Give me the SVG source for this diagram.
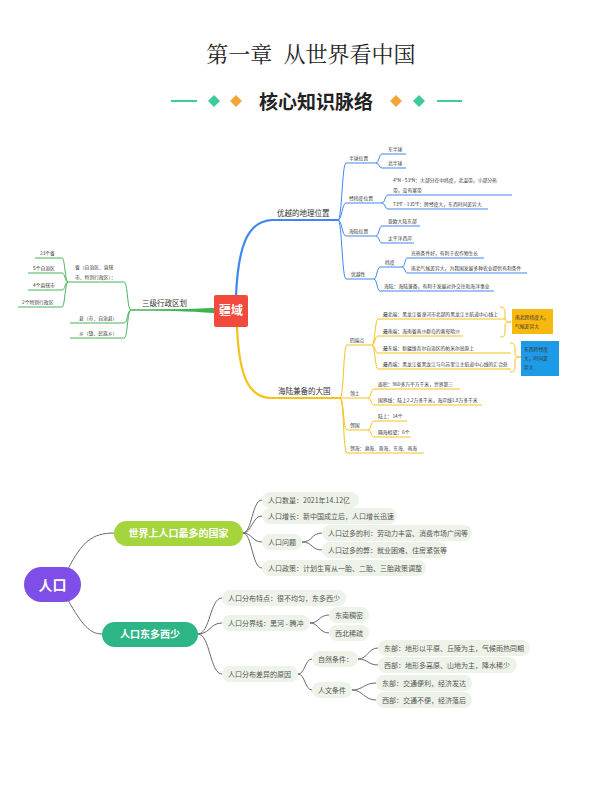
<svg xmlns="http://www.w3.org/2000/svg" width="592" height="798" viewBox="0 0 592 798">
<defs>
<style>
text{font-family:"Noto Sans CJK SC","Liberation Sans",sans-serif;}
.t{font-size:4.8px;fill:#333;}
.m{font-size:7.5px;fill:#333;}
.lf{font-size:7px;fill:#555;}
.bl{fill:none;stroke:#3f87ef;stroke-width:1;}
.yl{fill:none;stroke:#f4c21c;stroke-width:1;}
.gl{fill:none;stroke:#45b556;stroke-width:1;}
.gc{fill:none;stroke:#6a6a6a;stroke-width:1;}
.pill{fill:#edf3e9;}
</style>
</defs>
<rect width="592" height="798" fill="#ffffff"/>

<g id="title">
<text x="311" y="62" text-anchor="middle" xml:space="preserve" style="font-family:'Noto Serif CJK SC','Noto Sans CJK SC',serif;font-size:22px;fill:#222;">第一章  从世界看中国</text>
</g>
<g id="header">
<line x1="171" y1="101" x2="197" y2="101" stroke="#3ecb9c" stroke-width="2"/>
<polygon points="214,95 220,101 214,107 208,101" fill="#3ecb9c"/>
<polygon points="236,95 242,101 236,107 230,101" fill="#f5a43a"/>
<text x="316" y="109" text-anchor="middle" style="font-size:19px;font-weight:bold;fill:#222;">核心知识脉络</text>
<polygon points="396,95 402,101 396,107 390,101" fill="#f5a43a"/>
<polygon points="419,95 425,101 419,107 413,101" fill="#3ecb9c"/>
<line x1="437" y1="101" x2="462" y2="101" stroke="#3ecb9c" stroke-width="2"/>
</g>

<g id="connectors-top">
<!-- blue -->
<path d="M236,296 C238,250 246,221 272,220 L338,220" fill="none" stroke="#3f87ef" stroke-width="2.2"/>
<path class="bl" d="M338,220 C342,220 342,163 346,163 L376,163"/>
<path class="bl" d="M338,220 C342,220 342,203 346,203 L382,203"/>
<path class="bl" d="M338,220 C342,220 342,236 346,236 L376,236"/>
<path class="bl" d="M338,220 C342,220 342,279 346,279 L374,279"/>
<path class="bl" d="M376,163 C379,163 379,154 382,154 L406,154"/>
<path class="bl" d="M376,163 C379,163 379,168 382,168 L406,168"/>
<path class="bl" d="M382,203 C385,203 385,195 388,195 L512,195"/>
<path class="bl" d="M382,203 C385,203 385,209 388,209 L488,209"/>
<path class="bl" d="M376,236 C379,236 379,226 382,226 L420,226"/>
<path class="bl" d="M376,236 C379,236 379,243 382,243 L414,243"/>
<path class="bl" d="M374,279 C377,279 377,267 380,267 L402,267"/>
<path class="bl" d="M374,279 C377,279 377,291 380,291 L494,291"/>
<path class="bl" d="M402,267 C405,267 405,258 407,258 L484,258"/>
<path class="bl" d="M402,267 C405,267 405,273 407,273 L527,273"/>
<!-- yellow -->
<path d="M237,327 C239,375 248,398 272,398 L340,398" fill="none" stroke="#f4c21c" stroke-width="2.2"/>
<path class="yl" d="M340,398 C344,398 343,345 347,345 L372,345"/>
<path class="yl" d="M340,398 L368,398"/>
<path class="yl" d="M340,398 C344,398 343,430 347,430 L368,430"/>
<path class="yl" d="M340,398 C344,398 343,453 347,453 L424,453"/>
<path class="yl" d="M372,345 C375,345 375,319 378,319 L505,319"/>
<path class="yl" d="M372,345 C375,345 375,336 378,336 L463,336"/>
<path class="yl" d="M372,345 C375,345 375,353 378,353 L511,353"/>
<path class="yl" d="M372,345 C375,345 375,369 378,369 L511,369"/>
<path class="yl" d="M368,398 C371,398 371,389 374,389 L460,389"/>
<path class="yl" d="M368,398 C371,398 371,405 374,405 L482,405"/>
<path class="yl" d="M368,430 C371,430 371,421 374,421 L407,421"/>
<path class="yl" d="M368,430 C371,430 371,437 374,437 L411,437"/>
<path class="yl" d="M500,307 C504,307 505,309 505,313 L505,318 C505,321 507,322 511,322 C507,322 505,323 505,326 L505,332 C505,336 504,337 500,337"/>
<path class="yl" d="M510,343 C514,343 515,345 515,349 L515,353 C515,356 517,357 521,357 C517,357 515,358 515,361 L515,367 C515,371 514,372 510,372"/>
<!-- green -->
<path d="M214,308 C190,309 160,309.5 131,309.6 L131,310.4 C160,310.5 190,311 214,313 Z" fill="#3ab34b"/>
<path class="gl" d="M131,310 L215,310"/>
<path class="gl" d="M131,310 C127,310 128,282 124,282 L68,282"/>
<path class="gl" d="M131,310 C127,310 128,323 124,323 L70,323"/>
<path class="gl" d="M131,310 C127,310 128,338 124,338 L70,338"/>
<path class="gl" d="M68,282 C65,282 65,258 62,258 L35,258"/>
<path class="gl" d="M68,282 C65,282 65,273 62,273 L28,273"/>
<path class="gl" d="M68,282 C65,282 65,290 62,290 L28,290"/>
<path class="gl" d="M68,282 C65,282 65,307 62,307 L18,307"/>
</g>

<g id="n-jiangyu">
<rect x="214" y="295" width="34" height="32" rx="2" fill="#f24a3c"/>
<text x="231" y="315" text-anchor="middle" style="font-size:12px;font-weight:bold;fill:#fff;">疆域</text>
</g>
<g id="n-youyue"><text class="m" x="277" y="216">优越的地理位置</text></g>
<g id="n-banqiu"><text class="t" x="349" y="160">半球位置</text></g>
<g id="n-dong"><text class="t" x="388" y="151">东半球</text></g>
<g id="n-bei"><text class="t" x="388" y="165">北半球</text></g>
<g id="n-jingwei"><text class="t" x="349" y="200">经纬度位置</text></g>
<g id="n-wei"><text class="t" x="393" y="182">4°N - 53°N：大部分在中纬度，北温带，小部分热</text><text class="t" x="393" y="192">带，没有寒带</text></g>
<g id="n-jing"><text class="t" x="393" y="206">73°E - 135°E：跨经度大，东西时间差异大</text></g>
<g id="n-hailu"><text class="t" x="349" y="233">海陆位置</text></g>
<g id="n-yaou"><text class="t" x="388" y="223">亚欧大陆东部</text></g>
<g id="n-taiping"><text class="t" x="388" y="240">太平洋西岸</text></g>
<g id="n-youyuexing"><text class="t" x="351" y="276">优越性</text></g>
<g id="n-weidu"><text class="t" x="385" y="264">纬度</text></g>
<g id="n-guangre"><text class="t" x="411" y="255">光热条件好，有利于农作物生长</text></g>
<g id="n-nanbei"><text class="t" x="411" y="270">南北气候差异大，为我国发展多种农业提供有利条件</text></g>
<g id="n-hailu2"><text class="t" x="384" y="288">海陆：海陆兼备，有利于发展对外交往和海洋事业</text></g>

<g id="n-haiju"><text class="m" x="278" y="394">海陆兼备的大国</text></g>
<g id="n-siduan"><text class="t" x="350" y="342">四端点</text></g>
<g id="n-zuibei"><text class="t" x="383" y="316">最北端：黑龙江省漠河市北部的黑龙江主航道中心线上</text></g>
<g id="n-zuinan"><text class="t" x="383" y="333">最南端：海南省南沙群岛的曾母暗沙</text></g>
<g id="n-zuidong"><text class="t" x="383" y="350">最东端：新疆维吾尔自治区的帕米尔高原上</text></g>
<g id="n-zuixi"><text class="t" x="383" y="366">最西端：黑龙江省黑龙江与乌苏里江主航道中心线的汇合处</text></g>
<g id="n-orange">
<rect x="512" y="309" width="41" height="25" fill="#f7b80f"/>
<text class="t" x="515" y="319">南北跨纬度大，</text>
<text class="t" x="515" y="328">气候差异大</text>
</g>
<g id="n-bluebox">
<rect x="521" y="341" width="38" height="35" fill="#1e9be6"/>
<text class="t" x="524" y="351">东西跨经度</text>
<text class="t" x="524" y="360">大，时间差</text>
<text class="t" x="524" y="369">异大</text>
</g>
<g id="n-lingtu"><text class="t" x="350" y="395">领土</text></g>
<g id="n-mianji"><text class="t" x="378" y="386">面积：960多万平方千米，世界第三</text></g>
<g id="n-guojie"><text class="t" x="378" y="402">国界线：陆上2.2万多千米，海岸线1.8万多千米</text></g>
<g id="n-linguo"><text class="t" x="350" y="427">邻国</text></g>
<g id="n-lushang"><text class="t" x="378" y="418">陆上：14个</text></g>
<g id="n-gehai"><text class="t" x="378" y="434">隔海相望：6个</text></g>
<g id="n-linhai"><text class="t" x="350" y="450">邻海：渤海、黄海、东海、南海</text></g>

<g id="n-sanji"><text class="m" x="142" y="306">三级行政区划</text></g>
<g id="n-sheng"><text class="t" x="75" y="269">省（自治区、直辖</text><text class="t" x="75" y="279">市、特别行政区）：</text></g>
<g id="n-23"><text class="t" x="40" y="255">23个省</text></g>
<g id="n-5"><text class="t" x="33" y="270">5个自治区</text></g>
<g id="n-4"><text class="t" x="33" y="287">4个直辖市</text></g>
<g id="n-2"><text class="t" x="22" y="304">2个特别行政区</text></g>
<g id="n-xian"><text class="t" x="79" y="320">县（市、自治县）</text></g>
<g id="n-xiang"><text class="t" x="79" y="335">乡（镇、民族乡）</text></g>

<g id="connectors-bottom">
<path class="gc" d="M68,569 C82,542 92,533 114,533" stroke-width="1.5"/>
<path class="gc" d="M68,600 C82,625 90,634 102,634" stroke-width="1.5"/>
<path class="gc" d="M243,533 C252,533 252,500 262,500"/>
<path class="gc" d="M243,533 C252,533 252,516 262,516"/>
<path class="gc" d="M243,533 C252,533 252,542 262,542"/>
<path class="gc" d="M243,533 C252,533 252,568 262,568"/>
<path class="gc" d="M302,542 C313,542 311,533 322,533"/>
<path class="gc" d="M302,542 C313,542 311,550 322,550"/>
<path class="gc" d="M198,634 C210,634 210,598 222,598"/>
<path class="gc" d="M198,634 C210,634 210,623 222,623"/>
<path class="gc" d="M198,634 C210,634 210,674 222,674"/>
<path class="gc" d="M310,623 C319,623 319,615 329,615"/>
<path class="gc" d="M310,623 C319,623 319,633 329,633"/>
<path class="gc" d="M298,674 C305,674 305,659 312,659"/>
<path class="gc" d="M298,674 C305,674 305,690 312,690"/>
<path class="gc" d="M358,659 C368,659 368,648 378,648"/>
<path class="gc" d="M358,659 C368,659 368,665 378,665"/>
<path class="gc" d="M352,690 C363,690 364,683 376,683"/>
<path class="gc" d="M352,690 C363,690 364,700 376,700"/>
</g>

<g id="n-renkou">
<rect x="24" y="567" width="57" height="35" rx="17.5" fill="#7f4ee9"/>
<text x="52.5" y="590" text-anchor="middle" style="font-size:14px;font-weight:bold;fill:#fff;">人口</text>
</g>
<g id="n-zuiduo">
<rect x="114" y="521" width="129" height="25" rx="12.5" fill="#a4d53c"/>
<text x="178.5" y="537" text-anchor="middle" style="font-size:10px;font-weight:bold;fill:#fff;">世界上人口最多的国家</text>
</g>
<g id="n-dongduo">
<rect x="102" y="622" width="96" height="25" rx="12.5" fill="#2db586"/>
<text x="150" y="638" text-anchor="middle" style="font-size:10px;font-weight:bold;fill:#fff;">人口东多西少</text>
</g>

<g id="n-shuliang"><rect class="pill" x="262" y="492" width="97" height="16" rx="8"/><text class="lf" x="268" y="502.5">人口数量：2021年14.12亿</text></g>
<g id="n-zengzhang"><rect class="pill" x="262" y="508" width="135" height="16" rx="8"/><text class="lf" x="268" y="518.5">人口增长：新中国成立后，人口增长迅速</text></g>
<g id="n-wenti"><rect class="pill" x="262" y="534" width="40" height="16" rx="8"/><text class="lf" x="268" y="544.5">人口问题</text></g>
<g id="n-li"><rect class="pill" x="322" y="525" width="150" height="16" rx="8"/><text class="lf" x="328" y="535.5">人口过多的利：劳动力丰富、消费市场广阔等</text></g>
<g id="n-bi"><rect class="pill" x="322" y="542" width="125" height="16" rx="8"/><text class="lf" x="328" y="552.5">人口过多的弊：就业困难、住房紧张等</text></g>
<g id="n-zhengce"><rect class="pill" x="262" y="560" width="164" height="16" rx="8"/><text class="lf" x="268" y="570.5">人口政策：计划生育从一胎、二胎、三胎政策调整</text></g>

<g id="n-tedian"><rect class="pill" x="222" y="590" width="124" height="16" rx="8"/><text class="lf" x="228" y="600.5">人口分布特点：很不均匀，东多西少</text></g>
<g id="n-fenjie"><rect class="pill" x="222" y="615" width="88" height="16" rx="8"/><text class="lf" x="228" y="625.5">人口分界线：黑河 - 腾冲</text></g>
<g id="n-dongnan"><rect class="pill" x="329" y="607" width="40" height="16" rx="8"/><text class="lf" x="335" y="617.5">东南稠密</text></g>
<g id="n-xibei"><rect class="pill" x="329" y="625" width="40" height="16" rx="8"/><text class="lf" x="335" y="635.5">西北稀疏</text></g>
<g id="n-yuanyin"><rect class="pill" x="222" y="666" width="76" height="16" rx="8"/><text class="lf" x="228" y="676.5">人口分布差异的原因</text></g>
<g id="n-ziran"><rect class="pill" x="312" y="651" width="46" height="16" rx="8"/><text class="lf" x="318" y="661.5">自然条件：</text></g>
<g id="n-renwen"><rect class="pill" x="312" y="682" width="40" height="16" rx="8"/><text class="lf" x="318" y="692.5">人文条件</text></g>
<g id="n-zr-dong"><rect class="pill" x="378" y="640" width="152" height="16" rx="8"/><text class="lf" x="384" y="650.5">东部：地形以平原、丘陵为主，气候雨热同期</text></g>
<g id="n-zr-xi"><rect class="pill" x="378" y="657" width="139" height="16" rx="8"/><text class="lf" x="384" y="667.5">西部：地形多高原、山地为主，降水稀少</text></g>
<g id="n-rw-dong"><rect class="pill" x="376" y="675" width="96" height="16" rx="8"/><text class="lf" x="382" y="685.5">东部：交通便利，经济发达</text></g>
<g id="n-rw-xi"><rect class="pill" x="376" y="692" width="96" height="16" rx="8"/><text class="lf" x="382" y="702.5">西部：交通不便，经济落后</text></g>
</svg>
